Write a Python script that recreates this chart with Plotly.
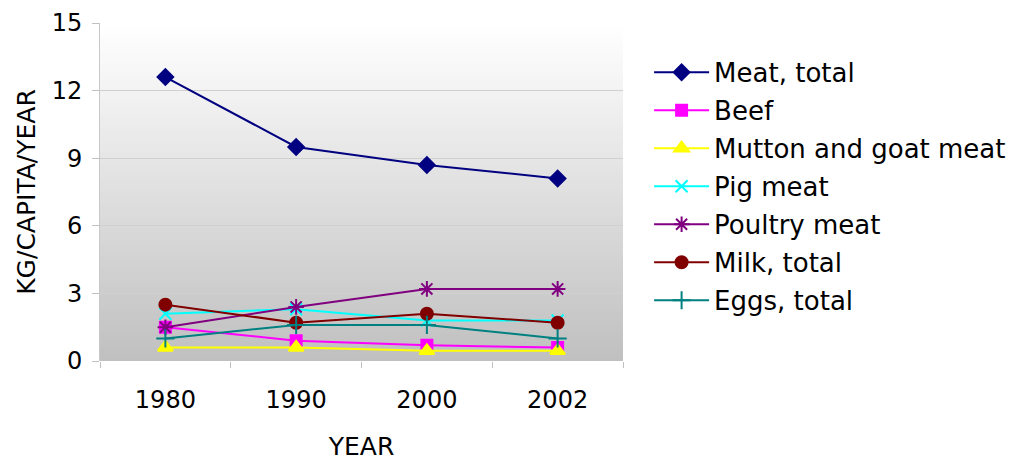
import plotly.graph_objects as go

years = ["1980", "1990", "2000", "2002"]
meat_total = [12.6, 9.5, 8.7, 8.1]
beef = [1.5, 0.9, 0.7, 0.6]
mutton_goat = [0.6, 0.6, 0.45, 0.45]
pig_meat = [2.1, 2.3, 1.8, 1.8]
poultry_meat = [1.5, 2.4, 3.2, 3.2]
milk_total = [2.5, 1.7, 2.1, 1.7]
eggs_total = [1.0, 1.6, 1.6, 1.0]
y_ticks = [0, 3, 6, 9, 12, 15]

series = [
    ("Meat, total", meat_total, "#000080", "diamond", 12),
    ("Beef", beef, "#FF00FF", "square", 11),
    ("Mutton and goat meat", mutton_goat, "#FFFF00", "triangle-up", 13),
    ("Pig meat", pig_meat, "#00FFFF", "x-thin", 12),
    ("Poultry meat", poultry_meat, "#800080", "asterisk", 13),
    ("Milk, total", milk_total, "#800000", "circle", 12),
    ("Eggs, total", eggs_total, "#008080", "cross-thin", 13),
]

FONT = "DejaVu Sans"
fig = go.Figure()
for i, (name, vals, color, sym, size) in enumerate(series):
    fig.add_trace(go.Scatter(
        x=years, y=vals, name=name, mode="lines+markers",
        legendgroup=f"g{i}",
        line=dict(color=color, width=2),
        marker=dict(symbol=sym, size=size, color=color,
                    line=dict(color=color, width=2)),
    ))

# vertical gradient background (white -> silver), overlapping bands avoid seams
n = 90
shapes = []
for k in range(n):
    t = k / (n - 1)
    c = int(round(255 - (255 - 192) * t))
    shapes.append(dict(type="rect", xref="x domain", yref="y domain",
                       x0=0, x1=1, y0=0, y1=1 - k / n,
                       fillcolor=f"rgb({c},{c},{c})", line=dict(width=0),
                       layer="below"))

fig.update_layout(
    width=1016, height=459,
    margin=dict(l=92, r=401, t=15, b=106, autoexpand=False),
    paper_bgcolor="white", plot_bgcolor="rgba(0,0,0,0)",
    shapes=shapes,
    font=dict(family=FONT, color="black", size=24),
    showlegend=True,
    legend=dict(xref="container", yref="container", x=0.631, y=0.911,
                xanchor="left", yanchor="top", font=dict(size=26, family=FONT),
                itemwidth=55, bgcolor="rgba(0,0,0,0)", maxheight=1.0,
                tracegroupgap=1.2),
    xaxis=dict(
        type="category", range=[-0.5, 3.5], automargin=False,
        title=dict(text="YEAR", font=dict(size=25), standoff=24),
        tickson="boundaries", ticks="outside", ticklen=6, tickcolor="#c0c0c0",
        showgrid=False, showline=False, zeroline=False,
        tickfont=dict(size=24), ticklabelstandoff=22,
    ),
    yaxis=dict(
        range=[0, 15], tickvals=y_ticks, automargin=False,
        title=dict(text="KG/CAPITA/YEAR", font=dict(size=25), standoff=8),
        ticks="outside", ticklen=7, tickcolor="#c0c0c0",
        showgrid=True, gridcolor="#d0d0d0", gridwidth=1,
        showline=True, linecolor="#c8c8c8", zeroline=False,
        tickfont=dict(size=24), ticklabelstandoff=5,
    ),
)

fig.write_html("out.html")
